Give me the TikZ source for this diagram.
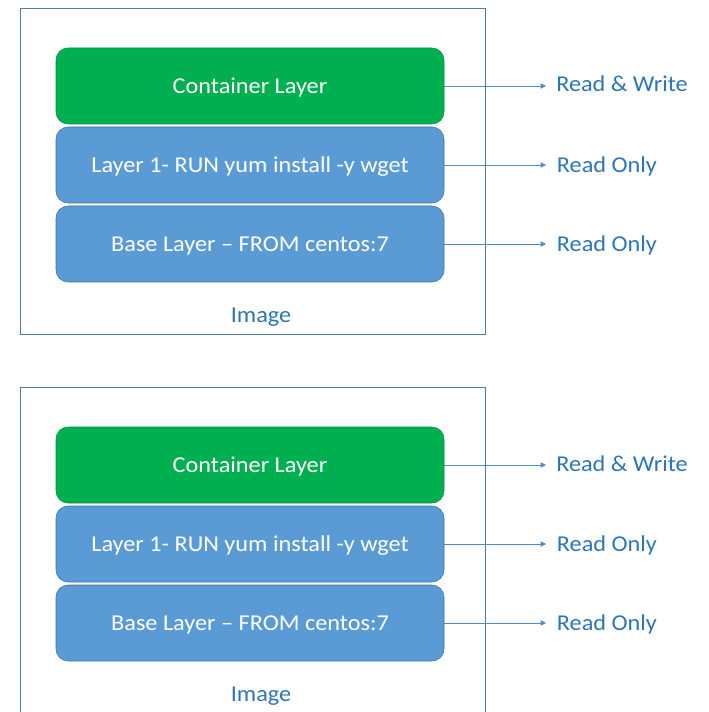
\documentclass[tikz,border=0pt]{standalone}
\usepackage{fontspec}
\setmainfont[FakeStretch=1.07]{Carlito}
\usetikzlibrary{arrows.meta}
\usetikzlibrary{positioning}

\definecolor{layergreen}{HTML}{00B050}
\definecolor{layerblue}{HTML}{5B9BD5}
\definecolor{layerborder}{HTML}{41719C}
\definecolor{textblue}{HTML}{2E75B6}
\definecolor{framecol}{HTML}{5A7A9C}

\tikzset{
	frame/.style={draw=framecol, line width=0.6pt},
	layer/.style={rounded corners=9pt, minimum width=291pt, minimum height=57pt, outer sep=0pt,
		inner sep=0pt, text=white, font=\fontsize{17}{20}\selectfont, text height=11pt, text depth=0pt},
	greenlayer/.style={layer, fill=layergreen, draw=layergreen!80!black, line width=0.4pt},
	bluelayer/.style={layer, fill=layerblue, draw=layerborder, line width=0.4pt},
	access/.style={text=textblue, font=\fontsize{17}{20}\selectfont, anchor=west, inner sep=0pt,
		text height=11pt, text depth=0pt},
	imglabel/.style={text=textblue, font=\fontsize{17}{20}\selectfont, inner sep=0pt,
		text height=11pt, text depth=0pt},
	acc/.style={draw=layerblue!90!black, line width=0.6pt, -{Triangle[length=4pt, width=4pt]}}
}

\begin{document}
\begin{tikzpicture}[x=0.75pt, y=-0.75pt]
	
	% Rahmen des Bildes
	\clip (0,0) rectangle (708,712);
	
	\foreach \dy/\p in {0/a, 379/b}{
		
		% Image-Rahmen
		\draw [frame] (20,8+\dy) rectangle (485,334+\dy);
		
		% Schichten
		\node [greenlayer] (\p cont) at (250,86+\dy) {Container Layer};
		\node [bluelayer, below=2.25pt of \p cont] (\p run) {Layer 1- RUN yum install -y wget};
		\node [bluelayer, below=2.25pt of \p run] (\p base) {Base Layer -- FROM centos:7};
		
		% Beschriftung
		\node [imglabel] (\p img) at (261,315+\dy) {Image};
		
		% Pfeile und Zugriffsrechte
		\coordinate (\p tip) at (546,\dy);
		\draw [acc] (\p cont.east) -- (\p cont.east -| \p tip) coordinate (\p e1);
		\draw [acc] (\p run.east) -- (\p run.east -| \p tip) coordinate (\p e2);
		\draw [acc] (\p base.east) -- (\p base.east -| \p tip) coordinate (\p e3);
		\node [access, right=7.5pt of \p e1, yshift=1pt] (\p rw) {Read \& Write};
		\node [access, right=8pt of \p e2] (\p ro1) {Read Only};
		\node [access, right=8pt of \p e3] (\p ro2) {Read Only};
	}
	
\end{tikzpicture}
\end{document}
